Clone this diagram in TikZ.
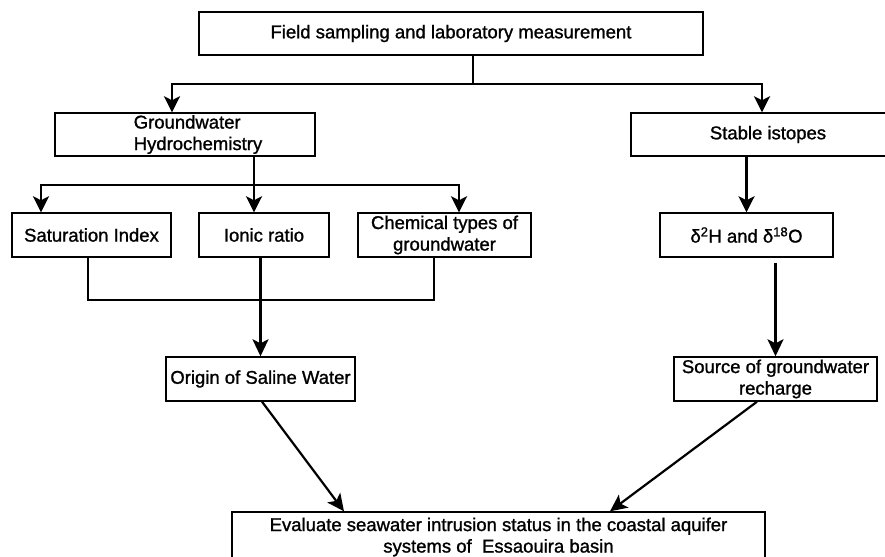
\documentclass[tikz,border=0pt]{standalone}
\usepackage{fontspec}
\setmainfont{Liberation Sans}[BoldFont={Liberation Sans},BoldFeatures={FakeBold=1.2}]
\usetikzlibrary{positioning,arrows.meta}

\begin{document}
\begin{tikzpicture}[x=1bp,y=-1bp,
  box/.style={draw,line width=1.4bp,minimum height=44bp,inner sep=2bp,align=center,
    font=\fontsize{18.5bp}{21.5bp}\selectfont\bfseries},
  tree/.style={line width=2.8bp,-{Stealth[length=16bp,width=16bp,inset=4bp]}},
  trunk/.style={line width=2.8bp},
  bar/.style={line width=2bp},
  link/.style={line width=2.2bp,-{Stealth[length=17bp,width=16bp,inset=4bp]}}]
\clip (0,0) rectangle (885,557);
\node[box,minimum width=504bp,minimum height=43bp] (0) at (451,33.5) {Field sampling and laboratory measurement};
\node[box,minimum width=260bp,minimum height=43bp,align=left] (1) at (185,134.5) {\hspace*{26bp}Groundwater\\\hspace*{26bp}Hydrochemistry};
\node[box,minimum width=274bp,minimum height=43bp] (2) at (768,134.5) {Stable istopes};
\node[box,minimum width=159bp] (3) at (91.5,235) {Saturation Index};
\node[box,minimum width=130bp] (4) at (264,235) {Ionic ratio};
\node[box,minimum width=173bp] (5) at (444.5,235) {Chemical types of\\groundwater};
\node[box,minimum width=173bp] (6) at (746.5,235) {δ\textsuperscript{2}H and δ\textsuperscript{18}O};
\node[box,minimum width=189bp] (7) at (260.5,379) {Origin of Saline Water};
\node[box,minimum width=203bp] (8) at (775.5,379) {Source of groundwater\\recharge};
\node[box,minimum width=533bp,minimum height=50bp] (9) at (498.5,537) {Evaluate seawater intrusion status in the coastal aquifer\\systems of\ \ Essaouira basin};
\coordinate (j0) at (473,84);
\coordinate (j1) at (254,185);
\draw[trunk] (0.south -| j0) -- (j0);
\draw[tree] (j0) -| ([xshift=-13bp]1.north);
\draw[tree] (j0) -| ([xshift=-6bp]2.north);
\draw[trunk] (1.south -| j1) -- (j1);
\draw[tree] (j1) -| ([xshift=-50.5bp]3.north);
\draw[tree] (j1) -- (j1 |- 4.north);
\draw[tree] (j1) -| ([xshift=14.5bp]5.north);
\draw[tree] (2.south -| 6.north) -- (6.north);
\draw[bar] ([xshift=-3.5bp]3.south) -- ++(0,42) -| ([xshift=-10.5bp]5.south);
\draw[link] (4.south -| 7.north) -- (7.north);
\draw[link,shorten <=5bp] (6.south -| 8.north) -- (8.north);
\draw[link] ([xshift=1.5bp]7.south) -- ([xshift=-154.5bp]9.north);
\draw[link] ([xshift=-18.5bp]8.south) -- ([xshift=111.5bp]9.north);
\end{tikzpicture}
\end{document}
